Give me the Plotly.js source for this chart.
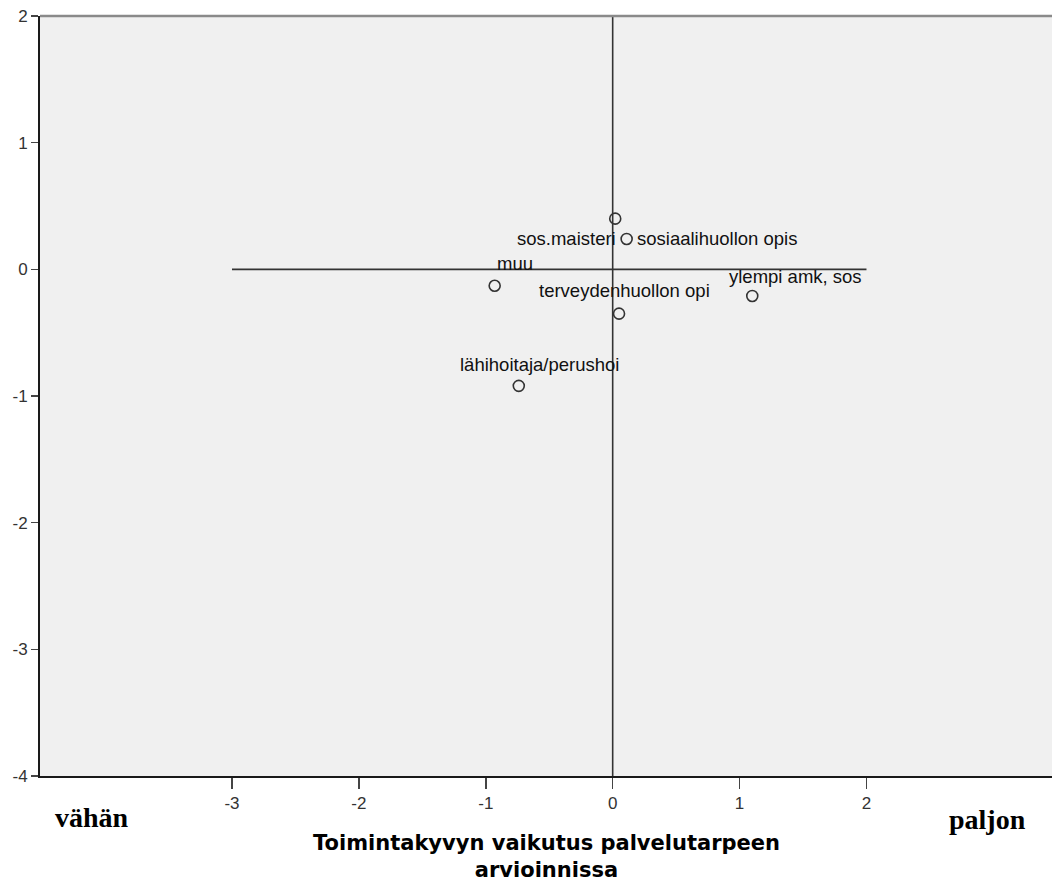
<!DOCTYPE html>
<html>
<head>
<meta charset="utf-8">
<script src="https://cdn.plot.ly/plotly-3.0.1.min.js"></script>
<style>
html,body{margin:0;padding:0;background:#fff;}
#chart{width:1052px;height:885px;}
</style>
</head>
<body>
<div id="chart"></div>
<script>
// Data
const labels = ["sos.maisteri", "sosiaalihuollon opis", "muu", "terveydenhuollon opi", "ylempi amk, sos", "lähihoitaja/perushoi"];
const xValues = [0.02, 0.11, -0.93, 0.05, 1.10, -0.74];
const yValues = [0.40, 0.24, -0.13, -0.35, -0.21, -0.92];
const refHX = [-3, 2];
const refHY = [0, 0];
const refVX = [0, 0];
const refVY = [-4, 2];
const xTicks = [-3, -2, -1, 0, 1, 2];
const yTicks = [-4, -3, -2, -1, 0, 1, 2];
const xTitleLines = ["Toimintakyvyn vaikutus palvelutarpeen", "arvioinnissa"];
const leftLabel = "vähän";
const rightLabel = "paljon";

// label offsets in pixels (dx, dy up)
const labelShift = [[-49, -20], [90, 0], [20, 22], [5, 23], [43, 19], [21, 21]];

const traces = [
  {x: refHX, y: refHY, mode: 'lines', line: {color: '#333', width: 1.6}, hoverinfo: 'skip', showlegend: false},
  {x: refVX, y: refVY, mode: 'lines', line: {color: '#333', width: 1.6}, hoverinfo: 'skip', showlegend: false},
  {x: xValues, y: yValues, mode: 'markers', text: labels,
   marker: {symbol: 'circle-open', size: 11, color: '#333', line: {width: 1.6, color: '#333'}},
   showlegend: false}
];

const annotations = labels.map((t, i) => ({
  x: xValues[i], y: yValues[i], xref: 'x', yref: 'y', text: t, showarrow: false,
  xshift: labelShift[i][0], yshift: labelShift[i][1],
  font: {family: 'Liberation Sans, Arial, sans-serif', size: 18.5, color: '#111'}
}));

annotations.push(
  {xref: 'paper', yref: 'paper', x: 0.5, y: 0, yshift: -53, text: xTitleLines.join('<br>'), showarrow: false,
   xanchor: 'center', yanchor: 'top',
   font: {family: 'DejaVu Sans, Verdana, sans-serif', size: 21, color: '#000', weight: 'bold'}},
  {xref: 'paper', yref: 'paper', x: 0, y: 0, xshift: 52, yshift: -41, text: '<b>' + leftLabel + '</b>', showarrow: false,
   xanchor: 'center', yanchor: 'middle',
   font: {family: 'Liberation Serif, Times New Roman, serif', size: 28, color: '#000'}},
  {xref: 'paper', yref: 'paper', x: 1, y: 0, xshift: -65, yshift: -43, text: '<b>' + rightLabel + '</b>', showarrow: false,
   xanchor: 'center', yanchor: 'middle',
   font: {family: 'Liberation Serif, Times New Roman, serif', size: 28, color: '#000'}}
);

const layout = {
  width: 1052, height: 885,
  margin: {l: 40, r: 0, t: 16, b: 109},
  paper_bgcolor: '#ffffff',
  plot_bgcolor: '#f0f0f0',
  showlegend: false,
  xaxis: {
    range: [-4.513, 3.462], tickvals: xTicks, ticktext: xTicks.map(String),
    showgrid: false, zeroline: false, showline: true, linecolor: '#1a1a1a', linewidth: 2,
    ticks: 'outside', ticklen: 11, tickwidth: 1.5, tickcolor: '#444',
    tickfont: {family: 'Liberation Sans, Arial, sans-serif', size: 17, color: '#333'}
  },
  yaxis: {
    range: [-4, 2], tickvals: yTicks, ticktext: yTicks.map(String),
    showgrid: false, zeroline: false, showline: true, linecolor: '#1a1a1a', linewidth: 2,
    ticks: 'outside', ticklen: 7, tickwidth: 1.5, tickcolor: '#444',
    tickfont: {family: 'Liberation Sans, Arial, sans-serif', size: 17, color: '#333'}
  },
  shapes: [
    {type: 'line', xref: 'paper', yref: 'paper', x0: 0, x1: 1, y0: 1, y1: 1, line: {color: '#8a8a8a', width: 2.5}}
  ],
  annotations: annotations
};

Plotly.newPlot('chart', traces, layout, {displayModeBar: false, staticPlot: true});
</script>
</body>
</html>
